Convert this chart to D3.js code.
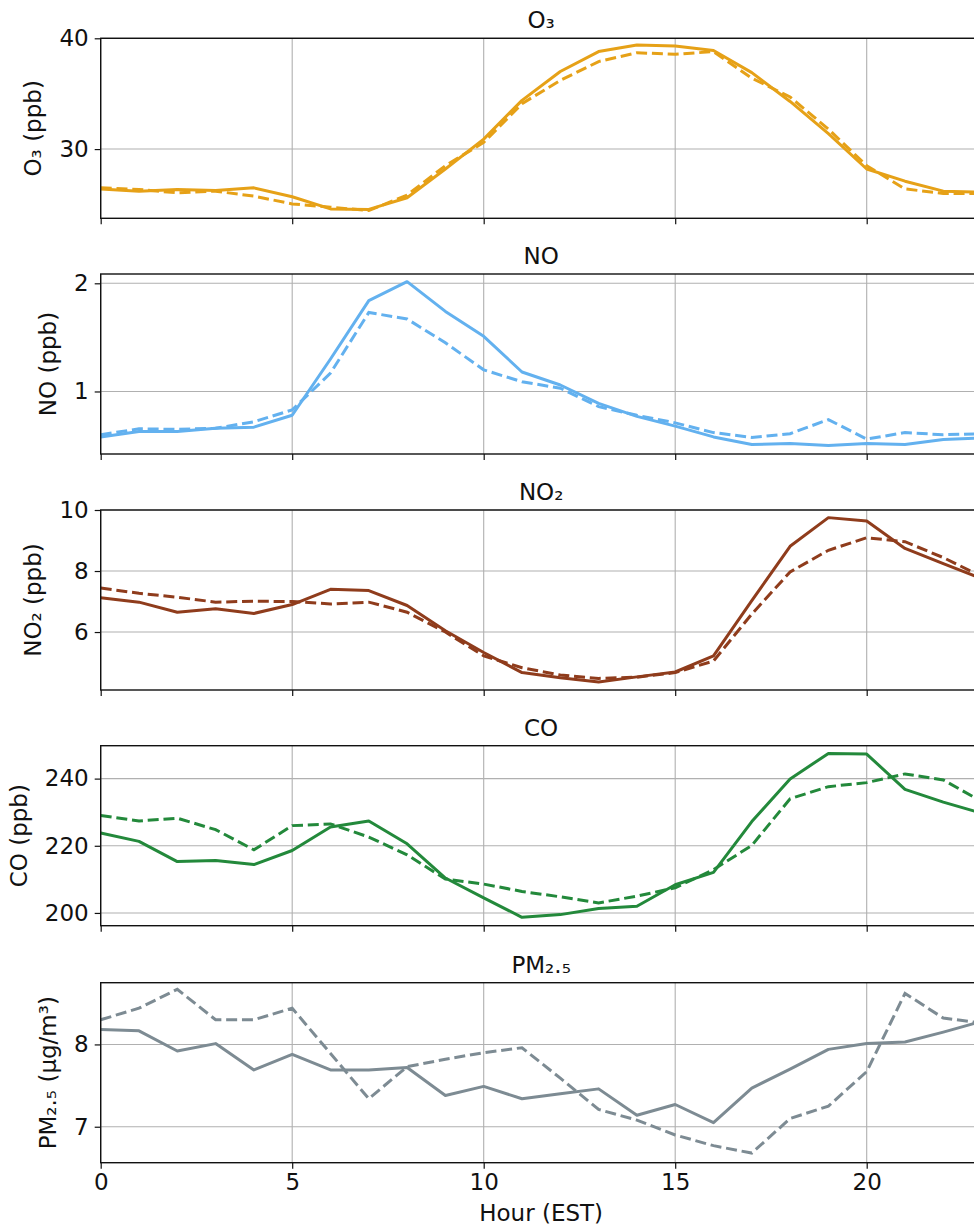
<!DOCTYPE html>
<html>
<head>
<meta charset="utf-8">
<script src="https://cdn.jsdelivr.net/npm/d3@7/dist/d3.min.js"></script>
<style>
  body { margin: 0; background: #fff; overflow: hidden; }
  svg { display: block; font-family: "DejaVu Sans", sans-serif; }
</style>
</head>
<body>
<svg id="chart" width="974" height="1228"></svg>
<script>
// hour of day (EST)
const hours = [0, 1, 2, 3, 4, 5, 6, 7, 8, 9, 10, 11, 12, 13, 14, 15, 16, 17, 18, 19, 20, 21, 22, 23];
const xTicks = [0, 5, 10, 15, 20];

// solid / dashed series per species
const o3Solid  = [26.4, 26.2, 26.35, 26.25, 26.5, 25.7, 24.6, 24.55, 25.6, 28.2, 30.9, 34.4, 37.0, 38.8, 39.4, 39.3, 38.9, 36.9, 34.3, 31.4, 28.2, 27.1, 26.2, 26.1];
const o3Dashed = [26.5, 26.35, 26.05, 26.2, 25.75, 25.05, 24.75, 24.45, 25.85, 28.5, 30.6, 34.1, 36.2, 37.9, 38.7, 38.55, 38.8, 36.4, 34.7, 31.8, 28.5, 26.4, 26.0, 26.0];

const noSolid  = [0.58, 0.63, 0.63, 0.66, 0.67, 0.78, 1.3, 1.84, 2.015, 1.74, 1.51, 1.18, 1.06, 0.89, 0.77, 0.68, 0.58, 0.51, 0.52, 0.50, 0.52, 0.51, 0.555, 0.57];
const noDashed = [0.6, 0.655, 0.65, 0.66, 0.72, 0.83, 1.17, 1.73, 1.67, 1.45, 1.2, 1.09, 1.03, 0.86, 0.78, 0.71, 0.62, 0.575, 0.61, 0.74, 0.56, 0.62, 0.60, 0.61];

const no2Solid  = [7.12, 6.98, 6.65, 6.76, 6.61, 6.9, 7.4, 7.36, 6.87, 6.04, 5.33, 4.67, 4.5, 4.36, 4.53, 4.69, 5.22, 7.03, 8.81, 9.75, 9.64, 8.74, 8.24, 7.75];
const no2Dashed = [7.44, 7.27, 7.14, 6.98, 7.01, 7.0, 6.92, 6.98, 6.65, 6.0, 5.22, 4.83, 4.59, 4.48, 4.52, 4.67, 5.05, 6.59, 7.97, 8.68, 9.09, 8.96, 8.44, 7.82];

const coSolid  = [223.8, 221.3, 215.3, 215.6, 214.4, 218.6, 225.6, 227.4, 220.6, 210.4, 204.5, 198.7, 199.5, 201.3, 202.0, 208.4, 212.1, 227.2, 239.9, 247.5, 247.3, 236.8, 233.0, 229.7];
const coDashed = [229.0, 227.4, 228.2, 224.8, 218.8, 226.0, 226.5, 222.6, 217.3, 210.1, 208.6, 206.4, 204.8, 203.0, 205.0, 207.5, 212.9, 220.1, 234.0, 237.6, 238.8, 241.4, 239.6, 233.2];

const pmSolid  = [8.18, 8.165, 7.92, 8.01, 7.69, 7.88, 7.69, 7.69, 7.72, 7.38, 7.49, 7.34, 7.40, 7.46, 7.14, 7.27, 7.05, 7.47, 7.70, 7.94, 8.01, 8.03, 8.15, 8.28];
const pmDashed = [8.30, 8.44, 8.67, 8.30, 8.30, 8.44, 7.89, 7.34, 7.73, 7.82, 7.90, 7.96, 7.59, 7.21, 7.08, 6.90, 6.77, 6.68, 7.10, 7.25, 7.67, 8.62, 8.32, 8.26];

const panels = [
  { title: "O₃",    ylabel: "O₃ (ppb)",       solid: o3Solid,  dashed: o3Dashed,  yTicks: [30, 40],         yDomain: [23.75, 40],   color: "#e6a117", top: 38.3 },
  { title: "NO",    ylabel: "NO (ppb)",       solid: noSolid,  dashed: noDashed,  yTicks: [1, 2],           yDomain: [0.422, 2.086], color: "#63b1ef", top: 274 },
  { title: "NO₂",   ylabel: "NO₂ (ppb)",      solid: no2Solid, dashed: no2Dashed, yTicks: [6, 8, 10],       yDomain: [4.1, 10],     color: "#8f3c1c", top: 510 },
  { title: "CO",    ylabel: "CO (ppb)",       solid: coSolid,  dashed: coDashed,  yTicks: [200, 220, 240],  yDomain: [196.2, 249.8], color: "#23893b", top: 745.7 },
  { title: "PM₂.₅", ylabel: "PM₂.₅ (μg/m³)", solid: pmSolid,  dashed: pmDashed,  yTicks: [7, 8],           yDomain: [6.563, 8.75], color: "#7d8b93", top: 982.7 }
];

const left = 100.7, right = 981.6, panelH = 180;
const fontSize = 23;
const ink = "#111";
const svg = d3.select("#chart");

const x = d3.scaleLinear().domain([0, 23]).range([left, right]);

panels.forEach((p, i) => {
  const y = d3.scaleLinear().domain(p.yDomain).range([p.top + panelH, p.top]);
  const g = svg.append("g");

  // grid
  g.append("g").selectAll("line").data(xTicks).join("line")
    .attr("x1", d => x(d)).attr("x2", d => x(d))
    .attr("y1", p.top).attr("y2", p.top + panelH)
    .attr("stroke", "#b0b0b0").attr("stroke-width", 1.1);
  g.append("g").selectAll("line").data(p.yTicks).join("line")
    .attr("x1", left).attr("x2", right)
    .attr("y1", d => y(d)).attr("y2", d => y(d))
    .attr("stroke", "#b0b0b0").attr("stroke-width", 1.1);

  // lines
  const line = d3.line().x((d, k) => x(hours[k])).y(d => y(d));
  g.append("path").datum(p.dashed).attr("d", line)
    .attr("fill", "none").attr("stroke", p.color).attr("stroke-width", 3)
    .attr("stroke-dasharray", "11,4.8");
  g.append("path").datum(p.solid).attr("d", line)
    .attr("fill", "none").attr("stroke", p.color).attr("stroke-width", 3)
    .attr("stroke-linejoin", "round");

  // axes
  const yAxis = g.append("g").attr("transform", `translate(${left},0)`)
    .call(d3.axisLeft(y).tickValues(p.yTicks).tickSize(6).tickPadding(6).tickFormat(d3.format("d")));
  const isLast = i === panels.length - 1;
  const xAxis = g.append("g").attr("transform", `translate(0,${p.top + panelH})`)
    .call(d3.axisBottom(x).tickValues(xTicks).tickSize(6).tickPadding(5)
      .tickFormat(isLast ? d3.format("d") : () => ""));
  [yAxis, xAxis].forEach(a => {
    a.select(".domain").remove();
    a.selectAll(".tick line").attr("stroke", ink).attr("stroke-width", 1.2);
    a.selectAll(".tick text").attr("fill", ink).style("font-size", fontSize + "px")
      .style("font-family", "DejaVu Sans");
  });

  // frame (right spine falls outside the window)
  g.append("rect").attr("x", left).attr("y", p.top)
    .attr("width", right - left).attr("height", panelH)
    .attr("fill", "none").attr("stroke", ink).attr("stroke-width", 1.4);

  // title
  g.append("text").attr("x", (left + right) / 2).attr("y", p.top - 10)
    .attr("text-anchor", "middle").attr("fill", ink)
    .style("font-size", fontSize + "px").text(p.title);

  // y label, placed against the widest tick label
  const tickLeft = d3.min(yAxis.selectAll(".tick text").nodes(), n => {
    const b = n.getBBox();
    return left - 6 - 6 - b.width;
  });
  g.append("text")
    .attr("transform", `translate(${tickLeft - 18},${p.top + panelH / 2}) rotate(-90)`)
    .attr("text-anchor", "middle").attr("fill", ink)
    .style("font-size", fontSize + "px").text(p.ylabel);
});

svg.append("text").attr("x", (left + right) / 2).attr("y", 1221)
  .attr("text-anchor", "middle").attr("fill", ink)
  .style("font-size", fontSize + "px").text("Hour (EST)");
</script>
</body>
</html>
